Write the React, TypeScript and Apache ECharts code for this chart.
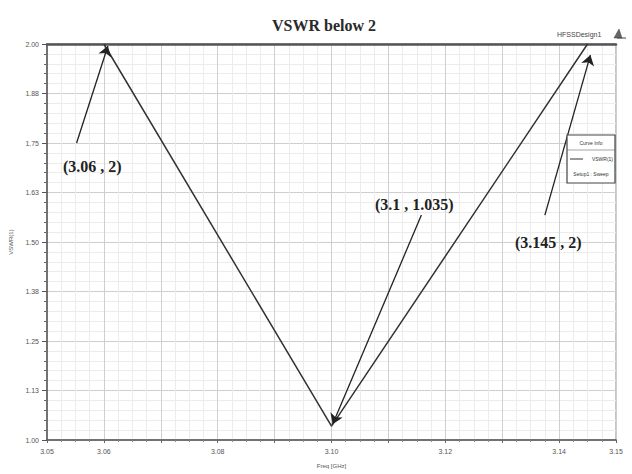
import React, { useEffect, useRef } from "react";
import * as echarts from "echarts";

const freqGHz = [3.06, 3.1, 3.145];
const vswr = [2, 1.035, 2];
const xTickLabels = [3.05, 3.06, 3.08, 3.1, 3.12, 3.14, 3.15];
const annotationTexts = ["(3.06 , 2)", "(3.1 , 1.035)", "(3.145 , 2)"];
const titleText = "VSWR below 2";
const legendTexts = ["Curve Info", "VSWR(1)", "Setup1 : Sweep"];

export default function App() {
  const ref = useRef<HTMLDivElement>(null);
  useEffect(() => {
    if (!ref.current) return;
    const chart = echarts.init(ref.current, undefined, { renderer: "svg" });
    const serif = "'Liberation Serif', 'DejaVu Serif', serif";
    const sans = "'Liberation Sans', Arial, sans-serif";
    const annFont = {
      fontFamily: serif,
      fontWeight: "bold" as const,
      fontSize: 16,
      fill: "#222",
      stroke: "none",
      lineWidth: 0,
    };
    const small = (t: string, x: number, y: number, align: string) => ({
      type: "text",
      x,
      y,
      z: 101,
      style: {
        text: t,
        fontFamily: sans,
        fontSize: 5,
        fill: "#333",
        stroke: "none",
        lineWidth: 0,
        align,
        verticalAlign: "middle",
      },
    });
    chart.setOption({
      animation: false,
      backgroundColor: "#ffffff",
      title: {
        text: titleText,
        left: 319,
        top: 12,
        textAlign: "center",
        textStyle: { fontFamily: serif, fontWeight: "bold", fontSize: 16, color: "#2a2a2a" },
      },
      grid: {
        left: 47,
        right: 16,
        top: 44,
        bottom: 34,
        show: true,
        borderColor: "#8a8a8a",
        borderWidth: 1,
        backgroundColor: "transparent",
      },
      xAxis: [
        {
          type: "value",
          min: 3.05,
          max: 3.15,
          interval: 0.01,
          name: "Freq [GHz]",
          nameLocation: "middle",
          nameGap: 23,
          nameTextStyle: { fontFamily: sans, fontSize: 6, color: "#555" },
          axisLine: { show: true, onZero: false, lineStyle: { color: "#555", width: 1.5 } },
          axisTick: { show: true, length: 3, lineStyle: { color: "#666" } },
          minorTick: { show: true, splitNumber: 4, length: 2, lineStyle: { color: "#888" } },
          axisLabel: {
            customValues: xTickLabels,
            formatter: (v: number) => v.toFixed(2),
            fontFamily: sans,
            fontSize: 7,
            color: "#555",
            margin: 8,
          },
          splitLine: { show: true, lineStyle: { color: "#cfcfcf", width: 1 } },
          minorSplitLine: { show: true, lineStyle: { color: "#ececec", width: 1 } },
        },
        {
          type: "value",
          position: "top",
          min: 3.05,
          max: 3.15,
          axisLine: { show: true, onZero: false, lineStyle: { color: "#555", width: 2.5 } },
          axisTick: { show: false },
          axisLabel: { show: false },
          splitLine: { show: false },
        },
      ],
      yAxis: {
        type: "value",
        min: 1,
        max: 2,
        interval: 0.125,
        name: "VSWR(1)",
        nameLocation: "middle",
        nameGap: 22,
        nameTextStyle: { fontFamily: sans, fontSize: 6, color: "#555" },
        axisLine: { show: true, onZero: false, lineStyle: { color: "#555", width: 1.5 } },
        axisTick: { show: true, length: 5, lineStyle: { color: "#555" } },
        minorTick: { show: true, splitNumber: 5, length: 3, lineStyle: { color: "#666" } },
        axisLabel: {
          formatter: (v: number) => v.toFixed(2),
          fontFamily: sans,
          fontSize: 7,
          color: "#555",
          margin: 8,
        },
        splitLine: { show: true, lineStyle: { color: "#cfcfcf", width: 1 } },
        minorSplitLine: { show: true, lineStyle: { color: "#ececec", width: 1 } },
      },
      series: [
        {
          type: "line",
          data: freqGHz.map((f, i) => [f, vswr[i]]),
          showSymbol: false,
          lineStyle: { color: "#333", width: 1.5 },
          clip: true,
          markLine: {
            silent: true,
            symbol: ["none", "arrow"],
            symbolSize: 10,
            label: { show: false },
            lineStyle: { color: "#222", width: 1.3, type: "solid" },
            data: [
              [{ coord: [3.0552, 1.75] }, { coord: [freqGHz[0] + 0.0007, vswr[0] - 0.005] }],
              [{ coord: [3.1158, 1.568] }, { coord: [freqGHz[1] + 0.0002, vswr[1] + 0.005] }],
              [{ coord: [3.1375, 1.568] }, { coord: [freqGHz[2] + 0.0005, vswr[2] - 0.028] }],
            ],
          },
        },
      ],
      graphic: [
        { type: "text", z: 100, left: 63, top: 158, style: { text: annotationTexts[0], ...annFont } },
        { type: "text", z: 100, left: 375, top: 196, style: { text: annotationTexts[1], ...annFont } },
        { type: "text", z: 100, left: 515, top: 234, style: { text: annotationTexts[2], ...annFont } },
        {
          type: "text",
          z: 100,
          left: 557,
          top: 31,
          style: { text: "HFSSDesign1", fontFamily: sans, fontSize: 7, fill: "#444", stroke: "none", lineWidth: 0 },
        },
        {
          type: "polygon",
          z: 100,
          shape: { points: [[614, 38], [619, 29], [622, 38]] },
          style: { fill: "#666", stroke: "#444", lineWidth: 0.5 },
        },
        {
          type: "line",
          z: 100,
          shape: { x1: 617, y1: 38, x2: 626, y2: 38 },
          style: { stroke: "#444", lineWidth: 1 },
        },
        {
          type: "rect",
          z: 100,
          shape: { x: 567, y: 135, width: 48, height: 48 },
          style: { fill: "#fff", stroke: "#444", lineWidth: 1.2 },
        },
        {
          type: "line",
          z: 101,
          shape: { x1: 567, y1: 150, x2: 615, y2: 150 },
          style: { stroke: "#666", lineWidth: 0.6 },
        },
        small(legendTexts[0], 591, 143, "center"),
        {
          type: "line",
          z: 101,
          shape: { x1: 570, y1: 159, x2: 583, y2: 159 },
          style: { stroke: "#333", lineWidth: 1 },
        },
        small(legendTexts[1], 613, 159, "right"),
        small(legendTexts[2], 591, 174, "center"),
      ],
    });
    return () => chart.dispose();
  }, []);
  return (
    <div
      ref={ref}
      style={{ position: "fixed", left: 0, top: 0, width: 632, height: 474 }}
    />
  );
}
